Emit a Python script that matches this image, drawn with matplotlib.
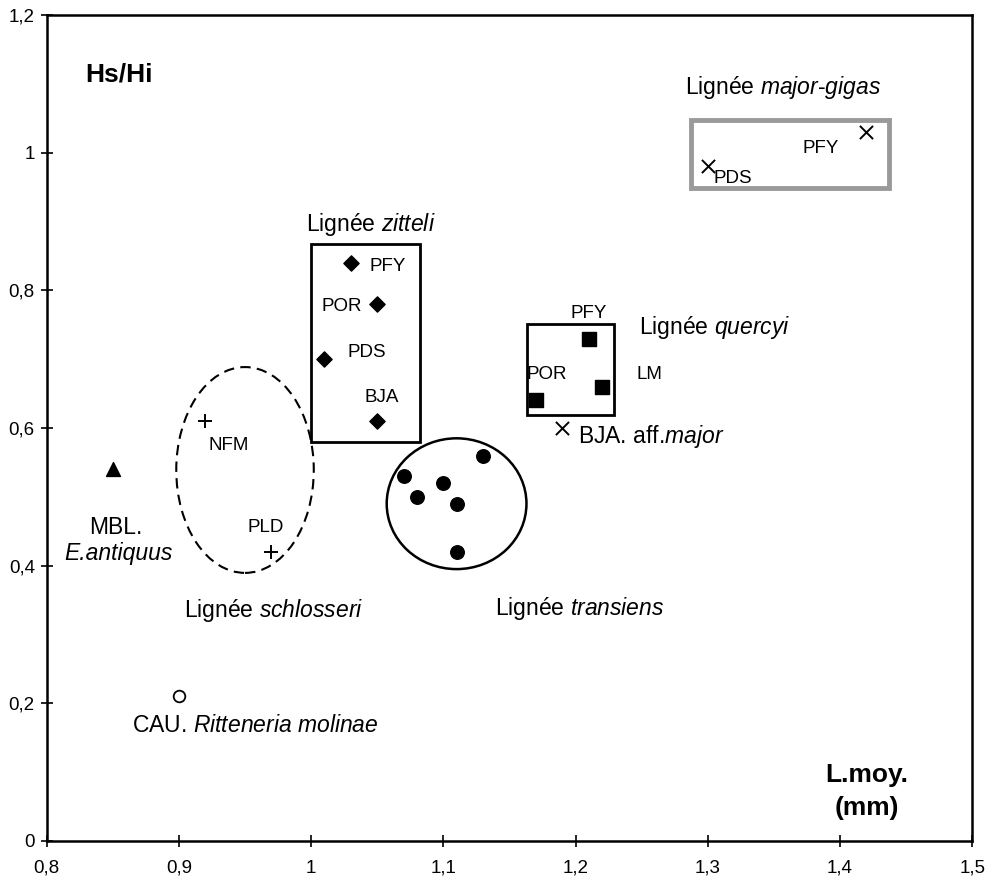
import matplotlib
matplotlib.use("Agg")
import matplotlib.pyplot as plt
from matplotlib.patches import Rectangle, Ellipse
from matplotlib.ticker import FuncFormatter

plt.rcParams["font.family"] = ["Liberation Sans", "DejaVu Sans"]
plt.rcParams["mathtext.fontset"] = "custom"
plt.rcParams["mathtext.rm"] = "Liberation Sans"
plt.rcParams["mathtext.it"] = "Liberation Sans:italic"

# Lignée zitteli (diamonds)
zitteli_x = [1.03, 1.05, 1.01, 1.05]
zitteli_y = [0.84, 0.78, 0.70, 0.61]
zitteli_labels = ["PFY", "POR", "PDS", "BJA"]

# Lignée quercyi (squares)
quercyi_x = [1.21, 1.17, 1.22]
quercyi_y = [0.73, 0.64, 0.66]
quercyi_labels = ["PFY", "POR", "LM"]

# Lignée transiens (filled circles)
transiens_x = [1.07, 1.08, 1.10, 1.11, 1.13, 1.11]
transiens_y = [0.53, 0.50, 0.52, 0.49, 0.56, 0.42]

# Lignée schlosseri (plus signs)
schlosseri_x = [0.92, 0.97]
schlosseri_y = [0.61, 0.42]
schlosseri_labels = ["NFM", "PLD"]

# major-gigas and aff. major (crosses)
gigas_x = [1.30, 1.42]
gigas_y = [0.98, 1.03]
gigas_labels = ["PDS", "PFY"]
aff_major_x = [1.19]
aff_major_y = [0.60]

# E. antiquus and Ritteneria
antiquus_x = [0.85]
antiquus_y = [0.54]
ritteneria_x = [0.90]
ritteneria_y = [0.21]


def comma(v, pos):
    s = f"{v:.1f}".rstrip("0").rstrip(".")
    return s.replace(".", ",")


fig = plt.figure(figsize=(9.91, 8.82), dpi=100)
ax = fig.add_axes([0.0471, 0.0465, 0.934, 0.9365])
ax.set_xlim(0.8, 1.5)
ax.set_ylim(0, 1.2)
ax.set_xticks([0.8, 0.9, 1.0, 1.1, 1.2, 1.3, 1.4, 1.5])
ax.set_yticks([0, 0.2, 0.4, 0.6, 0.8, 1.0, 1.2])
ax.xaxis.set_major_formatter(FuncFormatter(comma))
ax.yaxis.set_major_formatter(FuncFormatter(comma))
ax.tick_params(direction="inout", length=9, width=1.2, labelsize=13.5)
ax.tick_params(axis="x", pad=9)
ax.tick_params(axis="y", pad=4)
for sp in ax.spines.values():
    sp.set_linewidth(1.8)

# group outlines
ax.add_patch(Rectangle((1.0, 0.58), 0.082, 0.288, fill=False, lw=2, ec="black"))
ax.add_patch(Rectangle((1.163, 0.619), 0.066, 0.132, fill=False, lw=2, ec="black"))
ax.add_patch(Rectangle((1.287, 0.948), 0.150, 0.099, fill=False, lw=3.5, ec="#9a9a9a"))
ax.add_patch(Ellipse((1.110, 0.490), 0.1057, 0.190, fill=False, lw=1.8, ec="black"))
ax.add_patch(Ellipse((0.950, 0.539), 0.104, 0.299, fill=False, lw=1.5, ec="black",
                     ls=(0, (5, 3))))

# points
ax.scatter(zitteli_x, zitteli_y, marker="D", s=60, c="black", zorder=3)
ax.scatter(quercyi_x, quercyi_y, marker="s", s=90, c="black", zorder=3)
ax.scatter(transiens_x, transiens_y, marker="o", s=95, c="black", zorder=3)
ax.scatter(schlosseri_x, schlosseri_y, marker="+", s=110, c="black", lw=1.4, zorder=3)
ax.scatter(gigas_x + aff_major_x, gigas_y + aff_major_y, marker="x", s=90, c="black",
           lw=1.4, zorder=3)
ax.scatter(antiquus_x, antiquus_y, marker="^", s=100, c="black", zorder=3)
ax.scatter(ritteneria_x, ritteneria_y, marker="o", s=70, facecolors="white",
           edgecolors="black", lw=1.3, zorder=3)

# point labels
small = dict(fontsize=13.5, ha="center", va="center")
zitteli_off = [(0.028, -0.006), (-0.027, -0.004), (0.032, 0.010), (0.003, 0.035)]
for x, y, lab, (dx, dy) in zip(zitteli_x, zitteli_y, zitteli_labels, zitteli_off):
    ax.text(x + dx, y + dy, lab, **small)
quercyi_off = [(0.0, 0.037), (0.008, 0.037), (0.036, 0.017)]
for x, y, lab, (dx, dy) in zip(quercyi_x, quercyi_y, quercyi_labels, quercyi_off):
    ax.text(x + dx, y + dy, lab, **small)
schlosseri_off = [(0.0176, -0.035), (-0.0045, 0.036)]
for x, y, lab, (dx, dy) in zip(schlosseri_x, schlosseri_y, schlosseri_labels, schlosseri_off):
    ax.text(x + dx, y + dy, lab, **small)
gigas_off = [(0.0187, -0.017), (-0.035, -0.0235)]
for x, y, lab, (dx, dy) in zip(gigas_x, gigas_y, gigas_labels, gigas_off):
    ax.text(x + dx, y + dy, lab, **small)

# group names
big = dict(fontsize=16.5, ha="center", va="center")
ax.text(1.357, 1.094, r"Lignée $\mathit{major}$-$\mathit{gigas}$", **big)
ax.text(1.045, 0.895, r"Lignée $\mathit{zitteli}$", **big)
ax.text(1.305, 0.746, r"Lignée $\mathit{quercyi}$", **big)
ax.text(1.203, 0.338, r"Lignée $\mathit{transiens}$", **big)
ax.text(0.972, 0.335, r"Lignée $\mathit{schlosseri}$", **big)
ax.text(1.257, 0.587, r"BJA. aff.$\mathit{major}$", **big)
ax.text(0.852, 0.456, "MBL.", **big)
ax.text(0.854, 0.418, "E.antiquus", fontstyle="italic", **big)
ax.text(0.958, 0.168, r"CAU. $\mathit{Ritteneria\ molinae}$", **big)

# axis titles
ax.text(0.855, 1.113, "Hs/Hi", fontsize=19, fontweight="bold", ha="center", va="center")
ax.text(1.42, 0.096, "L.moy.", fontsize=19, fontweight="bold", ha="center", va="center")
ax.text(1.42, 0.048, "(mm)", fontsize=19, fontweight="bold", ha="center", va="center")

fig.savefig("out.png", dpi=100)
